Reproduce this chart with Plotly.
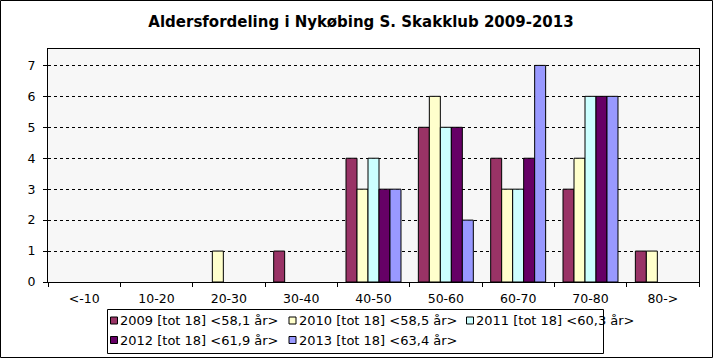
import plotly.graph_objects as go

categories = ["<-10", "10-20", "20-30", "30-40", "40-50", "50-60", "60-70", "70-80", "80->"]
series_names = [
    "2009 [tot 18] <58,1 år>",
    "2010 [tot 18] <58,5 år>",
    "2011 [tot 18] <60,3 år>",
    "2012 [tot 18] <61,9 år>",
    "2013 [tot 18] <63,4 år>",
]
v2009 = [0, 0, 0, 1, 4, 5, 4, 3, 1]
v2010 = [0, 0, 1, 0, 3, 6, 3, 4, 1]
v2011 = [0, 0, 0, 0, 4, 5, 3, 6, 0]
v2012 = [0, 0, 0, 0, 3, 5, 4, 6, 0]
v2013 = [0, 0, 0, 0, 3, 2, 7, 6, 0]
series_values = [v2009, v2010, v2011, v2012, v2013]
colors = ["#993366", "#FFFFCC", "#CCFFFF", "#660066", "#9999FF"]
title_text = "Aldersfordeling i Nykøbing S. Skakklub 2009-2013"

W, H = 714, 358
L, R, T, B = 48, 15, 49, 76
PW, PH = W - L - R, H - T - B

def px(x):
    return (x - L) / PW

def py(y):
    return (H - B - y) / PH

FONT = "Tahoma, Verdana, DejaVu Sans, sans-serif"

fig = go.Figure()
for name, vals, c in zip(series_names, series_values, colors):
    fig.add_trace(go.Bar(
        x=categories, y=[v if v else None for v in vals], name=name,
        marker=dict(color=c, line=dict(color="black", width=1)),
        showlegend=False,
    ))

shapes = []
annotations = []
# outer frame
shapes.append(dict(type="rect", xref="paper", yref="paper",
                   x0=px(0.5), x1=px(712.5), y0=py(357.5), y1=py(0.5),
                   line=dict(color="black", width=1), fillcolor="rgba(0,0,0,0)", layer="below"))
# legend box
shapes.append(dict(type="rect", xref="paper", yref="paper",
                   x0=px(107.5), x1=px(603.5), y0=py(353.5), y1=py(309.5),
                   line=dict(color="black", width=1), fillcolor="white"))
leg_pos = [(114, 320.5), (292.5, 320.5), (470, 320.5), (114, 340), (292.5, 340)]
for (cx, cy), name, c in zip(leg_pos, series_names, colors):
    shapes.append(dict(type="rect", xref="paper", yref="paper",
                       x0=px(cx - 3.5), x1=px(cx + 3.5), y0=py(cy + 3.5), y1=py(cy - 3.5),
                       line=dict(color="black", width=1), fillcolor=c))
    annotations.append(dict(xref="paper", yref="paper", x=px(cx + 4), y=py(cy),
                            xanchor="left", yanchor="middle", showarrow=False,
                            text=name, font=dict(family=FONT, size=13, color="black")))

fig.update_layout(
    width=W, height=H,
    margin=dict(l=L, r=R, t=T, b=B, pad=0),
    paper_bgcolor="white",
    plot_bgcolor="#F7F7F7",
    barmode="group",
    bargap=0.24,
    bargroupgap=0,
    title=dict(text="<b>" + title_text + "</b>", x=361 / W, xanchor="center",
               y=1 - 22 / H, yanchor="middle", yref="container", xref="container",
               font=dict(family=FONT, size=15, color="black")),
    shapes=shapes,
    annotations=annotations,
    xaxis=dict(
        type="category", showline=True, linecolor="black", linewidth=1, mirror=True,
        ticks="outside", tickson="boundaries", ticklen=4, tickcolor="black",
        showgrid=False, tickfont=dict(family=FONT, size=12.5, color="black"),
        ticklabelstandoff=5,
    ),
    yaxis=dict(
        range=[0, 7.53], dtick=1, showline=True, linecolor="black", linewidth=1, mirror=True,
        ticks="outside", ticklen=4, tickcolor="black",
        showgrid=True, gridcolor="black", gridwidth=1, griddash="3px,3px",
        zeroline=False, tickfont=dict(family=FONT, size=12.5, color="black"),
        ticklabelstandoff=5,
    ),
)

fig.write_html("out.html", config={"displayModeBar": False},
               post_script="document.body.style.margin='0';document.body.style.overflow='hidden';")
